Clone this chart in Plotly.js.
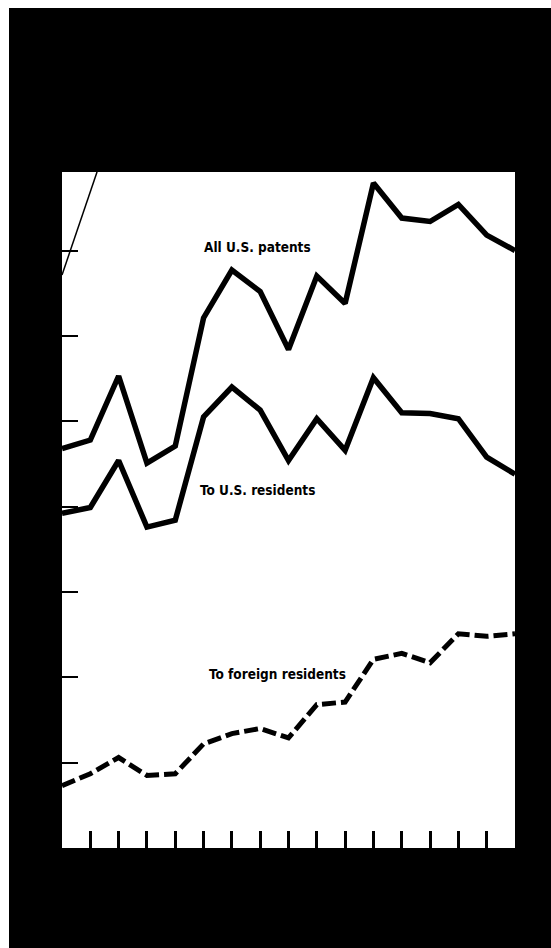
<!DOCTYPE html>
<html>
<head>
<meta charset="utf-8">
<script src="https://cdn.plot.ly/plotly-3.0.1.min.js"></script>
<style>
  html, body { margin: 0; padding: 0; background: #ffffff; width: 551px; height: 948px; overflow: hidden; }
  #chart { position: absolute; left: 9px; top: 8px; width: 542px; height: 940px; }
</style>
</head>
<body>
<div id="chart"></div>
<script>
// Years (x categories)
const years = [1960, 1961, 1962, 1963, 1964, 1965, 1966, 1967, 1968, 1969, 1970, 1971, 1972, 1973, 1974, 1975, 1976];

// Patents granted, thousands
const allPatents      = [46.8, 47.8, 55.3, 45.1, 47.1, 62.1, 67.7, 65.2, 58.4, 67.0, 63.8, 77.9, 73.8, 73.4, 75.4, 71.8, 70.0];
const usResidents     = [39.2, 39.9, 45.4, 37.6, 38.4, 50.5, 54.0, 51.3, 45.4, 50.3, 46.6, 55.1, 51.0, 50.9, 50.3, 45.8, 43.8];
const foreignResidents = [7.3, 8.7, 10.6, 8.5, 8.7, 12.2, 13.4, 14.0, 12.9, 16.8, 17.1, 22.1, 22.8, 21.7, 25.1, 24.8, 25.1];

// Tick values
const yTicks = [10, 20, 30, 40, 50, 60, 70];
const xTicks = [1961, 1962, 1963, 1964, 1965, 1966, 1967, 1968, 1969, 1970, 1971, 1972, 1973, 1974, 1975];

// Series labels
const labels = ["All U.S. patents", "To U.S. residents", "To foreign residents"];

const traces = [
  { x: years, y: allPatents, mode: "lines", line: { color: "#000", width: 5.5 }, name: labels[0] },
  { x: years, y: usResidents, mode: "lines", line: { color: "#000", width: 5.5 }, name: labels[1] },
  { x: years, y: foreignResidents, mode: "lines", line: { color: "#000", width: 5, dash: "14px,5px" }, name: labels[2] }
];

const labelFont = { family: "Liberation Sans Narrow, DejaVu Sans Condensed, Arial Narrow, sans-serif", size: 13.5, color: "#000", weight: "bold" };

const layout = {
  width: 542, height: 940,
  margin: { l: 53, r: 36, t: 164, b: 100, pad: 0 },
  paper_bgcolor: "#000000",
  plot_bgcolor: "#ffffff",
  showlegend: false,
  xaxis: {
    range: [1960, 1976], showgrid: false, zeroline: false, showline: false,
    tickmode: "array", tickvals: xTicks, ticks: "inside", ticklen: 17, tickwidth: 3, tickcolor: "#000",
    showticklabels: false, fixedrange: true
  },
  yaxis: {
    range: [0, 79.2], showgrid: false, zeroline: false, showline: false,
    tickmode: "array", tickvals: yTicks, ticks: "inside", ticklen: 16, tickwidth: 2, tickcolor: "#000",
    showticklabels: false, fixedrange: true
  },
  annotations: [
    { x: 1966.9, y: 70.4, xref: "x", yref: "y", text: labels[0], showarrow: false, font: labelFont, xanchor: "center", yanchor: "middle" },
    { x: 1966.9, y: 41.9, xref: "x", yref: "y", text: labels[1], showarrow: false, font: labelFont, xanchor: "center", yanchor: "middle" },
    { x: 1967.6, y: 20.4, xref: "x", yref: "y", text: labels[2], showarrow: false, font: labelFont, xanchor: "center", yanchor: "middle" }
  ],
  shapes: [
    { type: "line", xref: "paper", yref: "paper", x0: 0.0773, y0: 1.0, x1: 0.0, y1: 0.8476, line: { color: "#000", width: 1.5 } }
  ]
};

Plotly.newPlot("chart", traces, layout, { displayModeBar: false, staticPlot: true });
</script>
</body>
</html>
